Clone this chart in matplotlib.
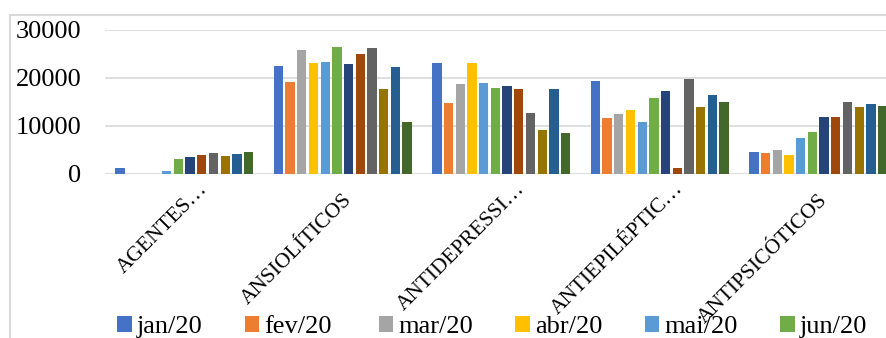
import matplotlib
matplotlib.use("Agg")
import matplotlib.pyplot as plt
import matplotlib.transforms as mtransforms
from matplotlib.patches import Rectangle
import numpy as np

plt.rcParams['font.family'] = ['Liberation Serif', 'DejaVu Serif']

categorias = ["AGENTES…", "ANSIOLÍTICOS", "ANTIDEPRESSI…", "ANTIEPILÉPTIC…", "ANTIPSICÓTICOS"]
meses = ["jan/20", "fev/20", "mar/20", "abr/20", "mai/20", "jun/20",
         "jul/20", "ago/20", "set/20", "out/20", "nov/20", "dez/20"]

jan = [1350, 22500, 23100, 19400, 4500]
fev = [0, 19250, 14800, 11700, 4300]
mar = [0, 25800, 18750, 12600, 5000]
abr = [0, 23100, 23200, 13300, 4000]
mai = [700, 23300, 19000, 10900, 7450]
jun = [3100, 26450, 17850, 15850, 8700]
jul = [3500, 23000, 18350, 17200, 11950]
ago = [3950, 25000, 17750, 1200, 11900]
set_ = [4300, 26300, 12650, 19700, 14950]
out = [3750, 17700, 9250, 13950, 14000]
nov = [4100, 22200, 17700, 16400, 14500]
dez = [4600, 10900, 8550, 15000, 14250]
series = [jan, fev, mar, abr, mai, jun, jul, ago, set_, out, nov, dez]

cores = ["#4472C4", "#ED7D31", "#A5A5A5", "#FFC000", "#5B9BD5", "#70AD47",
         "#264478", "#9E480E", "#636363", "#997300", "#255E91", "#43682B"]

W, H = 887, 338
fig = plt.figure(figsize=(W / 100, H / 100), dpi=100)
ax = fig.add_axes([105 / W, 1 - 174 / H, 792.5 / W, 144 / H])

x = np.arange(len(categorias))
slot = 0.886 / len(series)
barras = []
for i, (vals, cor, mes) in enumerate(zip(series, cores, meses)):
    pos = x - 0.443 + slot * (i + 0.5)
    barras.append(ax.bar(pos, vals, width=slot * 0.8, color=cor, label=mes, zorder=3))

ax.set_xlim(-0.5, len(categorias) - 0.5)
ax.set_ylim(0, 30000)
ax.set_yticks([0, 10000, 20000, 30000])
ax.yaxis.grid(True, color="#D9D9D9", lw=1.2, zorder=0)
for s in ax.spines.values():
    s.set_visible(False)
ax.tick_params(axis="y", length=0, pad=17, labelsize=19)
ax.tick_params(axis="x", length=0, pad=12)

ax.set_xticks(x)
ax.set_xticklabels(categorias, rotation=45, ha="right", va="top",
                   rotation_mode="anchor", fontsize=15.5)
# rótulos truncados ficam deslocados pela largura das reticências
desloc = mtransforms.ScaledTranslation(0.14, 0.11, fig.dpi_scale_trans)
for lab in ax.get_xticklabels():
    if lab.get_text().endswith("…"):
        lab.set_transform(lab.get_transform() + desloc)

# legenda em duas linhas de seis, preenchida por linha
ordem = [k for j in range(6) for k in (j, j + 6)]
ax.legend([barras[k] for k in ordem], [meses[k] for k in ordem],
          ncol=6, loc="upper left", bbox_to_anchor=(117 / W, 1 - 316 / H),
          bbox_transform=fig.transFigure, frameon=False, fontsize=19,
          handlelength=0.55, handleheight=0.55, handletextpad=0.2,
          columnspacing=1.6, borderpad=0, borderaxespad=0, labelspacing=0.3)

# moldura da área do gráfico
fig.add_artist(Rectangle((10 / W, -0.2), 1.5, 1.2 - 15 / H, transform=fig.transFigure,
                         fill=False, edgecolor="#D9D9D9", lw=1.5))

fig.savefig("out.png", dpi=100)
